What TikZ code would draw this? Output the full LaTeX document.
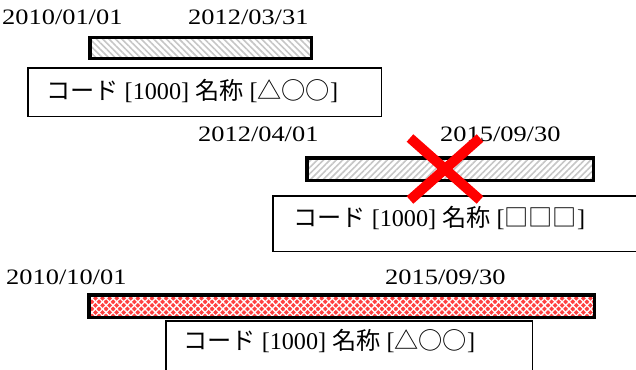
\documentclass[tikz,border=0pt]{standalone}
\usepackage{fontspec}
\usepackage{graphicx}
\setmainfont{Liberation Serif}
\newfontfamily\jp{Noto Sans CJK JP}
\usetikzlibrary{patterns.meta}
\newcommand{\dtxt}[1]{\scalebox{1.2}[1]{#1}}
\newcommand{\btxt}[1]{\resizebox{292pt}{\height}{#1}}
\begin{document}
\begin{tikzpicture}[x=1pt,y=-1pt,
  datelabel/.style={anchor=base west, inner sep=0pt, font=\fontsize{22}{26}\selectfont},
  bartext/.style={anchor=west, inner sep=0pt, font=\fontsize{24}{28}\selectfont},
  barframe/.style={draw=black, line width=3.5pt},
  boxframe/.style={draw=black, line width=1.5pt},
  hatchA/.style={pattern={Lines[angle=-45,distance=4.5pt,line width=1.6pt]}, pattern color=gray!45},
  hatchB/.style={pattern={Lines[angle=45,distance=4.5pt,line width=1.6pt]}, pattern color=gray!45},
  redfill/.style={fill=red!75, postaction={pattern={Lines[angle=45,distance=5pt,line width=1.3pt]}, pattern color=white}, postaction={pattern={Lines[angle=-45,distance=5pt,line width=1.3pt]}, pattern color=white}},
  cross/.style={draw=red, line width=10pt}
]
\useasboundingbox (0,0) rectangle (636,369);
% bars
\path[hatchA] (89.75,37.75) rectangle (311.25,58.25);
\draw[barframe] (89.75,37.75) rectangle (311.25,58.25);
\path[hatchB] (306.75,157.75) rectangle (593.25,180.25);
\draw[barframe] (306.75,157.75) rectangle (593.25,180.25);
\path[redfill] (88.75,294.75) rectangle (594.25,317.25);
\draw[barframe] (88.75,294.75) rectangle (594.25,317.25);
% boxes
\draw[boxframe] (27.75,67.75) rectangle (381.25,116.25);
\draw[boxframe] (272.75,195.75) rectangle (640,251.25);
\draw[boxframe] (165.75,320.75) rectangle (532.25,375);
% dates
\node[datelabel] (d1s) at (2,25) {\dtxt{2010/01/01}};
\node[datelabel] (d1e) at (188,25) {\dtxt{2012/03/31}};
\node[datelabel] (d2s) at (198,141) {\dtxt{2012/04/01}};
\node[datelabel] (d2e) at (440,141) {\dtxt{2015/09/30}};
\node[datelabel] (d3s) at (6,284) {\dtxt{2010/10/01}};
\node[datelabel] (d3e) at (385,284) {\dtxt{2015/09/30}};
% box texts
\node[bartext] (t1) at (46,91) {\btxt{{\jp コード} [1000] {\jp 名称} [{\jp △○○}]}};
\node[bartext] (t2) at (293,218) {\btxt{{\jp コード} [1000] {\jp 名称} [{\jp □□□}]}};
\node[bartext] (t3) at (183,341) {\btxt{{\jp コード} [1000] {\jp 名称} [{\jp △○○}]}};
% red cross
\coordinate (xa) at (410,138);
\coordinate (xb) at (480,200);
\coordinate (xc) at (480,138);
\coordinate (xd) at (410,200);
\draw[cross] (xa) -- (xb);
\draw[cross] (xc) -- (xd);
\end{tikzpicture}
\end{document}
